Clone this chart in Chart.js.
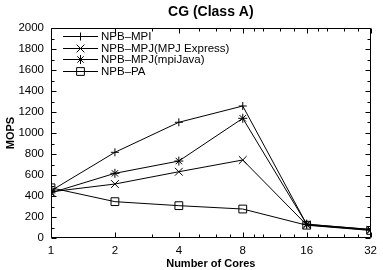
<!DOCTYPE html>
<html lang="en">
<head>
<meta charset="UTF-8">
<title>CG (Class A)</title>
<script src="https://cdn.jsdelivr.net/npm/chart.js"></script>
<style>
  body { margin: 0; background: #fff; }
</style>
</head>
<body>
<canvas id="chart_cg" width="383" height="270"></canvas>
<script>
    // data
    var cores = [1, 2, 4, 8, 16, 32];
    var minorCores = [3, 5, 6, 7, 9, 10, 12, 14, 18, 20, 24, 28];
    var seriesNames = ['NPB\u2013MPI', 'NPB\u2013MPJ(MPJ Express)', 'NPB\u2013MPJ(mpiJava)', 'NPB\u2013PA'];
    var npbMpi = [450, 816, 1102, 1257, 130, 82];
    var mpjExpress = [440, 514, 631, 743, 125, 76];
    var mpiJava = [430, 616, 733, 1140, 132, 80];
    var npbPa = [478, 346, 308, 276, 122, 72];
    var yMax = 2000;
    var yStep = 200;

    Chart.defaults.font.family = "'Liberation Sans', Arial, sans-serif";
    Chart.defaults.color = '#000';

    function pts(arr) {
        return cores.map((c, i) => ({ x: c, y: arr[i] }));
    }

    var styles = [
        { pointStyle: 'cross', radius: 4 },
        { pointStyle: 'crossRot', radius: 5.5 },
        { pointStyle: 'star', radius: 4.5 },
        { pointStyle: 'rect', radius: 5.5 },
    ];
    var values = [npbMpi, mpjExpress, mpiJava, npbPa];

    var datasets = values.map((v, i) => ({
        label: seriesNames[i],
        data: pts(v),
        borderColor: '#000',
        borderWidth: 1,
        pointStyle: styles[i].pointStyle,
        pointRadius: styles[i].radius,
        pointBorderColor: '#000',
        pointBackgroundColor: 'rgba(0,0,0,0)',
        pointBorderWidth: 1,
        tension: 0,
        fill: false,
    }));

    // frame with inward ticks, gnuplot style
    var frameTicks = {
        id: 'frameTicks',
        afterDatasetsDraw(chart) {
            var ctx = chart.ctx, a = chart.chartArea, x = chart.scales.x, y = chart.scales.y;
            var L = Math.round(a.left) + 0.5, R = Math.round(a.right) - 0.5;
            var T = Math.round(a.top) + 0.5, B = Math.round(a.bottom) - 0.5;
            ctx.save();
            ctx.strokeStyle = '#000';
            ctx.lineWidth = 1;
            ctx.beginPath();
            ctx.rect(L, T, R - L, B - T);
            function vt(px, len) {
                px = Math.round(px) + 0.5;
                ctx.moveTo(px, B); ctx.lineTo(px, B - len);
                ctx.moveTo(px, T); ctx.lineTo(px, T + len);
            }
            function ht(py, len) {
                py = Math.round(py) + 0.5;
                ctx.moveTo(L, py); ctx.lineTo(L + len, py);
                ctx.moveTo(R, py); ctx.lineTo(R - len, py);
            }
            cores.forEach(c => vt(x.getPixelForValue(c), 5));
            minorCores.forEach(c => vt(x.getPixelForValue(c), 3));
            for (var v = 0; v <= yMax; v += yStep / 2) {
                ht(y.getPixelForValue(v), v % yStep === 0 ? 5 : 3);
            }
            ctx.stroke();
            ctx.restore();
        }
    };

    // legend inside the plot, top left
    var innerLegend = {
        id: 'innerLegend',
        afterDatasetsDraw(chart) {
            var ctx = chart.ctx, a = chart.chartArea;
            ctx.save();
            ctx.strokeStyle = '#000';
            ctx.fillStyle = '#000';
            ctx.lineWidth = 1;
            ctx.font = "11.5px 'Liberation Sans', Arial, sans-serif";
            ctx.textBaseline = 'middle';
            chart.data.datasets.forEach((ds, i) => {
                var yy = Math.round(a.top + 8 + i * 11.6) + 0.5;
                var x0 = a.left + 12, x1 = a.left + 47, xm = (x0 + x1) / 2;
                ctx.beginPath();
                ctx.moveTo(x0, yy); ctx.lineTo(x1, yy);
                ctx.stroke();
                ctx.fillStyle = 'rgba(0,0,0,0)';
                Chart.helpers.drawPoint(ctx, {
                    pointStyle: ds.pointStyle, radius: ds.pointRadius,
                    rotation: 0, borderWidth: 1
                }, xm, yy);
                ctx.fillStyle = '#000';
                ctx.fillText(ds.label, a.left + 50, yy + 0.5);
            });
            ctx.restore();
        }
    };

    var topTitle = {
        id: 'topTitle',
        afterDraw(chart) {
            var ctx = chart.ctx, a = chart.chartArea;
            ctx.save();
            ctx.fillStyle = '#000';
            ctx.font = "bold 14px 'Liberation Sans', Arial, sans-serif";
            ctx.textAlign = 'center';
            ctx.textBaseline = 'middle';
            ctx.fillText('CG (Class A)', (a.left + a.right) / 2, 12);
            ctx.restore();
        }
    };

    new Chart(document.getElementById('chart_cg'), {
        type: 'line',
        data: { datasets: datasets },
        plugins: [frameTicks, innerLegend, topTitle],
        options: {
            responsive: false,
            animation: false,
            devicePixelRatio: 1,
            layout: { padding: { top: 28, right: 8, left: 0, bottom: 0 } },
            plugins: {
                legend: { display: false },
                tooltip: { enabled: false },
            },
            scales: {
                x: {
                    type: 'logarithmic',
                    min: 1,
                    max: 32,
                    afterBuildTicks: s => { s.ticks = cores.map(v => ({ value: v })); },
                    afterFit: s => { s.height = 32; },
                    grid: { display: false, drawTicks: false },
                    border: { display: false },
                    ticks: {
                        autoSkip: false,
                        maxRotation: 0,
                        padding: 6,
                        font: { size: 11.5 },
                        callback: v => String(v),
                    },
                    title: {
                        display: true,
                        text: 'Number of Cores',
                        font: { size: 11, weight: 'bold' },
                        padding: { top: 0, bottom: -1 },
                    },
                },
                y: {
                    min: 0,
                    max: yMax,
                    afterFit: s => { s.width = 51; },
                    grid: { display: false, drawTicks: false },
                    border: { display: false },
                    ticks: {
                        stepSize: yStep,
                        padding: 7,
                        font: { size: 11.5 },
                        callback: v => String(v),
                    },
                    title: {
                        display: true,
                        text: 'MOPS',
                        font: { size: 11, weight: 'bold' },
                        padding: { top: 4, bottom: 0 },
                    },
                },
            },
        },
    });
</script>
</body>
</html>
